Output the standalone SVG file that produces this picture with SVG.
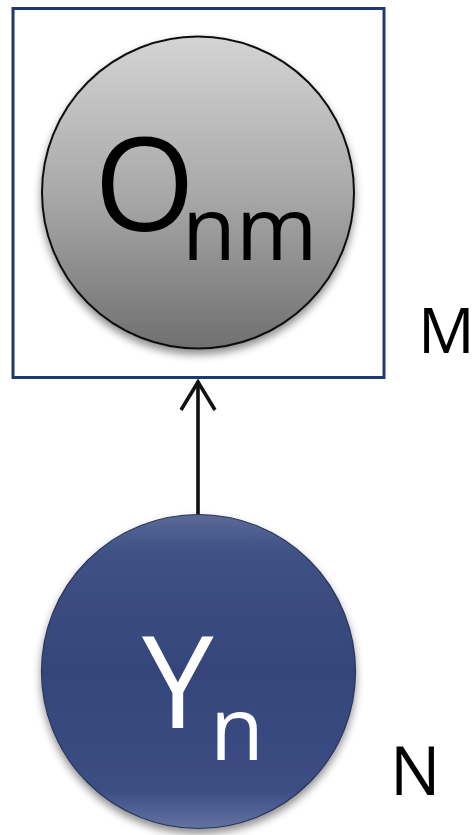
<svg xmlns="http://www.w3.org/2000/svg" width="474" height="835" viewBox="0 0 474 835">
  <defs>
    <linearGradient id="grayFill" x1="0" y1="0" x2="0" y2="1">
      <stop offset="0" stop-color="#d4d4d4"/>
      <stop offset="0.5" stop-color="#a9a9a9"/>
      <stop offset="1" stop-color="#707070"/>
    </linearGradient>
    <linearGradient id="blueFill" x1="0" y1="0" x2="0" y2="1">
      <stop offset="0" stop-color="#5a6a98"/>
      <stop offset="0.12" stop-color="#3f5185"/>
      <stop offset="0.5" stop-color="#34457a"/>
      <stop offset="0.88" stop-color="#3c4e84"/>
      <stop offset="1" stop-color="#6373a2"/>
    </linearGradient>
    <filter id="shadow" x="-20%" y="-20%" width="140%" height="150%">
      <feGaussianBlur in="SourceAlpha" stdDeviation="4"/>
      <feOffset dy="5"/>
      <feComponentTransfer><feFuncA type="linear" slope="0.45"/></feComponentTransfer>
      <feMerge><feMergeNode/><feMergeNode in="SourceGraphic"/></feMerge>
    </filter>
    <!-- open chevron head, drawn pointing along +x so orient="auto" follows the line -->
    <marker id="chevron" viewBox="0 0 34 40" refX="32" refY="20" markerWidth="34" markerHeight="40" markerUnits="userSpaceOnUse" orient="auto">
      <path d="M3,3 L31,20 L3,37" fill="none" stroke="#111" stroke-width="3.6" stroke-linejoin="miter"/>
    </marker>
  </defs>
  <style>
    .label { font-family: "Open Sans", "DejaVu Sans", sans-serif; }
    .plate { fill: none; stroke: #1e3a6a; stroke-width: 3; }
  </style>

  <rect width="474" height="835" fill="#ffffff"/>

  <!-- plate M around the observed node -->
  <g id="plate-M">
    <rect class="plate" x="13" y="8.5" width="371" height="369"/>
    <text class="label" x="418" y="353" font-size="63" fill="#000">M</text>
  </g>

  <g id="connectors">
    <line x1="198" y1="517" x2="198" y2="381" stroke="#111" stroke-width="3.6" marker-end="url(#chevron)"/>
  </g>

  <g id="node-O">
    <circle cx="198" cy="192.5" r="156" fill="url(#grayFill)" stroke="#111" stroke-width="2" filter="url(#shadow)"/>
    <text class="label" fill="#000"><tspan x="94" y="231" font-size="130">O</tspan><tspan x="182" y="260" font-size="88">nm</tspan></text>
  </g>

  <g id="node-Y">
    <circle cx="198.5" cy="671.5" r="157" fill="url(#blueFill)" stroke="#2a3559" stroke-width="1.2" filter="url(#shadow)"/>
    <text class="label" fill="#ffffff"><tspan x="142" y="728" font-size="128">Y</tspan><tspan x="210" y="760" font-size="88">n</tspan></text>
  </g>

  <g id="plate-N">
    <text class="label" x="390" y="795" font-size="67" fill="#000">N</text>
  </g>
</svg>
